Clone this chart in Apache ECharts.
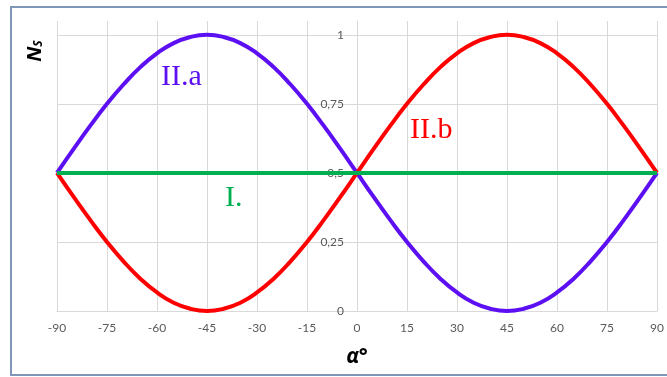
<!DOCTYPE html>
<html>
<head>
<meta charset="utf-8">
<script src="https://cdn.jsdelivr.net/npm/echarts@6/dist/echarts.min.js"></script>
<style>
  html, body { margin: 0; padding: 0; background: #ffffff; }
  #chart { width: 667px; height: 377px; }
</style>
</head>
<body>
<div id="chart"></div>
<script>
// Angle α in degrees, sampled every 5°
const alpha = [-90, -85, -80, -75, -70, -65, -60, -55, -50, -45, -40, -35, -30, -25, -20, -15, -10, -5,
  0, 5, 10, 15, 20, 25, 30, 35, 40, 45, 50, 55, 60, 65, 70, 75, 80, 85, 90];

// Case II.a (purple)
const nsIIa = [0.5, 0.587, 0.671, 0.75, 0.821, 0.883, 0.933, 0.970, 0.992, 1.0, 0.992, 0.970, 0.933, 0.883, 0.821, 0.75, 0.671, 0.587,
  0.5, 0.413, 0.329, 0.25, 0.179, 0.117, 0.067, 0.030, 0.008, 0.0, 0.008, 0.030, 0.067, 0.117, 0.179, 0.25, 0.329, 0.413, 0.5];

// Case II.b (red)
const nsIIb = [0.5, 0.413, 0.329, 0.25, 0.179, 0.117, 0.067, 0.030, 0.008, 0.0, 0.008, 0.030, 0.067, 0.117, 0.179, 0.25, 0.329, 0.413,
  0.5, 0.587, 0.671, 0.75, 0.821, 0.883, 0.933, 0.970, 0.992, 1.0, 0.992, 0.970, 0.933, 0.883, 0.821, 0.75, 0.671, 0.587, 0.5];

// Case I (green)
const nsI = [0.5, 0.5, 0.5, 0.5, 0.5, 0.5, 0.5, 0.5, 0.5, 0.5, 0.5, 0.5, 0.5, 0.5, 0.5, 0.5, 0.5, 0.5,
  0.5, 0.5, 0.5, 0.5, 0.5, 0.5, 0.5, 0.5, 0.5, 0.5, 0.5, 0.5, 0.5, 0.5, 0.5, 0.5, 0.5, 0.5, 0.5];

const pairs = (ys) => alpha.map((a, i) => [a, ys[i]]);

const gridColor = '#d9d9d9';
const tickFont = 'Lato, "Open Sans", sans-serif';

const gridLeft = 57, gridRight = 10, chartWidth = 667;
const xMin = -90, xMax = 90;
// shift the vertical axis from the left edge onto α = 0
const plotWidth = chartWidth - gridLeft - gridRight;
const yAxisOffset = -plotWidth * (0 - xMin) / (xMax - xMin);

const chart = echarts.init(document.getElementById('chart'), null, { renderer: 'canvas' });

chart.setOption({
  backgroundColor: '#ffffff',
  animation: false,
  grid: { left: gridLeft, right: gridRight, top: 21, bottom: 66, containLabel: false },
  xAxis: {
    type: 'value',
    min: xMin, max: xMax, interval: 15,
    axisLine: { show: true, onZero: false, lineStyle: { color: gridColor, width: 1 } },
    axisTick: { show: false },
    axisLabel: { color: '#595959', fontFamily: tickFont, fontSize: 12, margin: 11 },
    splitLine: { show: true, lineStyle: { color: gridColor, width: 1 } }
  },
  yAxis: {
    type: 'value',
    position: 'left',
    offset: yAxisOffset,
    min: 0, max: 1.05, interval: 0.25,
    axisLine: { show: true, onZero: false, lineStyle: { color: gridColor, width: 1 } },
    axisTick: { show: false },
    axisLabel: {
      color: '#595959', fontFamily: tickFont, fontSize: 12, margin: 13,
      showMaxLabel: false,
      formatter: (v) => v > 1 ? '' : String(v).replace('.', ',')
    },
    splitLine: { show: true, showMaxLine: false, lineStyle: { color: gridColor, width: 1 } }
  },
  series: [
    {
      name: 'II.a', type: 'line', data: pairs(nsIIa), smooth: true, showSymbol: false,
      lineStyle: { color: '#5c0ff2', width: 4 }, z: 2
    },
    {
      name: 'II.b', type: 'line', data: pairs(nsIIb), smooth: true, showSymbol: false,
      lineStyle: { color: '#ff0000', width: 4 }, z: 3
    },
    {
      name: 'I.', type: 'line', data: pairs(nsI), showSymbol: false,
      lineStyle: { color: '#00b050', width: 4 }, z: 4
    }
  ],
  graphic: [
    {
      type: 'rect', silent: true, z: -1,
      shape: { x: 11, y: 7, width: 670, height: 368 },
      style: { fill: 'none', stroke: '#8096b8', lineWidth: 2 }
    },
    {
      type: 'text', left: 161, top: 62,
      style: { text: 'II.a', fill: '#5c0ff2', font: '30px "Liberation Serif", serif' }
    },
    {
      type: 'text', left: 410, top: 115,
      style: { text: 'II.b', fill: '#ff0000', font: '30px "Liberation Serif", serif' }
    },
    {
      type: 'text', left: 225, top: 183,
      style: { text: 'I.', fill: '#00b050', font: '30px "Liberation Serif", serif' }
    },
    {
      type: 'text', x: 357, y: 357,
      style: {
        text: 'α°', fill: '#000000', align: 'center', verticalAlign: 'middle',
        font: 'italic bold 21px "Open Sans", sans-serif'
      }
    },
    {
      type: 'text', x: 35, y: 51, rotation: Math.PI / 2,
      style: {
        text: '{n|N}{s|S}', align: 'center', verticalAlign: 'middle',
        rich: {
          n: { font: 'italic bold 20px "Open Sans", sans-serif', fill: '#000000' },
          s: { font: 'italic bold 12px "Open Sans", sans-serif', fill: '#000000', padding: [8, 0, 0, 0] }
        }
      }
    }
  ]
});
</script>
</body>
</html>
